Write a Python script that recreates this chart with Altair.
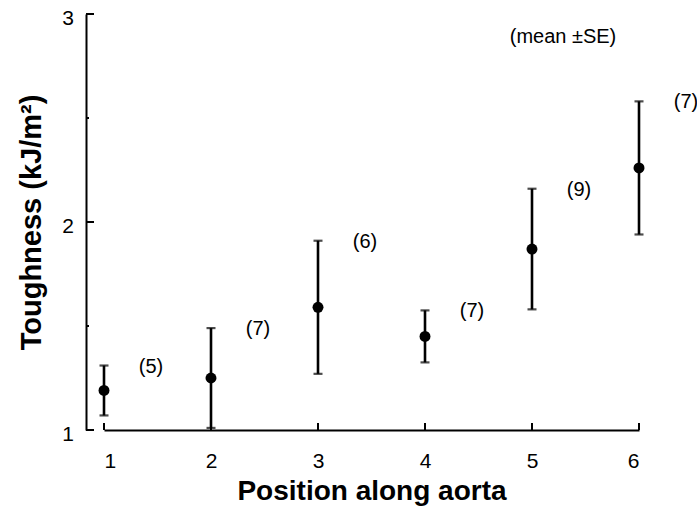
import altair as alt
import pandas as pd

# Toughness measured at six positions along the aorta (mean ± SE, n per site)
positions = [1, 2, 3, 4, 5, 6]
means = [1.19, 1.25, 1.59, 1.45, 1.87, 2.26]
ses = [0.12, 0.24, 0.32, 0.125, 0.29, 0.32]
counts = [5, 7, 6, 7, 9, 7]

y_ticks = [1, 2, 3]
y_tick_labels = ["1", "2", "3"]
y_minor = [1.5, 2.5]

df = pd.DataFrame({"pos": positions, "mean": means, "se": ses, "n": counts})
df["lo"] = df["mean"] - df["se"]
df["hi"] = df["mean"] + df["se"]
df["label"] = ["(" + str(c) + ")" for c in counts]

FONT = "Liberation Sans"
W, H = 535, 416

xs = alt.Scale(domain=[1, 6], nice=False, zero=False)
ys = alt.Scale(domain=[1, 3], nice=False, zero=False)

x_axis = alt.Axis(
    title="Position along aorta", values=positions, format="d",
    ticks=False, grid=False, domainColor="black", domainWidth=2,
    labelFontSize=21, labelFont=FONT, labelColor="black", labelPadding=20,
    titleFontSize=28, titleFont=FONT, titleFontWeight="bold", titleColor="black",
    titlePadding=6,
)
# y labels are drawn as a text layer below; the axis keeps line and title
y_axis = alt.Axis(
    title="Toughness (kJ/m²)", values=y_ticks, offset=18,
    ticks=False, labels=False, grid=False, domainColor="black", domainWidth=2,
    titleFontSize=29, titleFont=FONT, titleFontWeight="bold", titleColor="black",
    titlePadding=40,
)


def X(field):
    return alt.X(field, scale=xs, axis=x_axis)


def Y(field):
    return alt.Y(field, scale=ys, axis=y_axis)


base = alt.Chart(df)

bars = base.mark_rule(color="black", strokeWidth=2.6).encode(
    x=X("pos:Q"), y=Y("lo:Q"), y2="hi:Q"
)
cap_hi = base.mark_tick(orient="horizontal", color="black", size=9, thickness=2.2).encode(
    x=X("pos:Q"), y=Y("hi:Q")
)
cap_lo = base.mark_tick(orient="horizontal", color="black", size=9, thickness=2.2).encode(
    x=X("pos:Q"), y=Y("lo:Q")
)
points = base.mark_point(filled=True, color="black", size=120, opacity=1).encode(
    x=X("pos:Q"), y=Y("mean:Q")
)
n_labels = base.mark_text(
    font=FONT, fontSize=20, color="black", dx=47, dy=1, align="center", baseline="middle"
).encode(x=X("pos:Q"), y=Y("hi:Q"), text="label:N")

# inward-pointing axis ticks and y tick labels
ytick_df = pd.DataFrame({"v": y_ticks, "t": y_tick_labels})
yminor_df = pd.DataFrame({"v": y_minor})
xtick_df = pd.DataFrame({"v": positions})

y_major_ticks = alt.Chart(ytick_df).mark_rule(color="black", strokeWidth=2).encode(
    y=Y("v:Q"), x=alt.value(-18), x2=alt.value(-10)
)
y_minor_ticks = alt.Chart(yminor_df).mark_rule(color="black", strokeWidth=2).encode(
    y=Y("v:Q"), x=alt.value(-18), x2=alt.value(-15)
)
y_labels = alt.Chart(ytick_df).mark_text(
    font=FONT, fontSize=21, color="black", align="right", baseline="middle", dy=5
).encode(y=Y("v:Q"), x=alt.value(-30), text="t:N")
x_ticks = alt.Chart(xtick_df).mark_rule(color="black", strokeWidth=2).encode(
    x=X("v:Q"), y=alt.value(H), y2=alt.value(H - 7)
)

note = alt.Chart(pd.DataFrame({"t": ["(mean ±SE)"]})).mark_text(
    font=FONT, fontSize=20, color="black", align="center", baseline="middle"
).encode(x=alt.value(459), y=alt.value(23), text="t:N")

chart = alt.layer(
    bars, cap_hi, cap_lo, points, n_labels,
    y_major_ticks, y_minor_ticks, y_labels, x_ticks, note,
).properties(
    width=W, height=H,
    autosize=alt.AutoSizeParams(type="none"),
    padding={"left": 104, "top": 14, "right": 58, "bottom": 78},
    background="white",
).configure_view(stroke=None)

chart.save("out.html", embed_options={"renderer": "svg", "actions": False})
